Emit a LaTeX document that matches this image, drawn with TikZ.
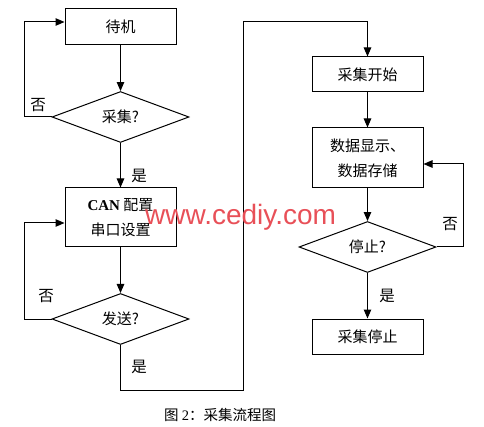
\documentclass[tikz,border=0pt]{standalone}
\usepackage{fontspec}
\setmainfont{Liberation Serif}
\newfontfamily\cjk{Noto Sans CJK SC}
\newfontfamily\wmfont{Liberation Sans}
\usetikzlibrary{arrows.meta,shapes.geometric,calc}
\tikzset{
  box/.style={draw, line width=1pt, minimum width=111pt, inner sep=0pt, align=center, font=\cjk\fontsize{15}{25}\selectfont},
  dia/.style={diamond, draw, line width=1pt, minimum width=137pt, inner sep=0pt, font=\cjk\fontsize{15}{16}\selectfont},
  arr/.style={line width=1pt, -{Triangle[length=9pt,width=7.5pt]}},
  lbl/.style={font=\cjk\fontsize{15.5}{16}\selectfont, inner sep=0pt}
}
\begin{document}
\begin{tikzpicture}[x=1pt,y=-1pt]
\useasboundingbox (0,0) rectangle (484,427);
% left column
\node[box, minimum height=36pt] (n1) at (120.5,27) {待机};
\node[dia, minimum height=47pt] (d1) at (120.5,117) {采集?};
\node[box, minimum height=59pt] (n2) at (120.5,217.5) {{\fontspec{Liberation Serif}\bfseries CAN} 配置\hspace{17pt}\\串口设置};
\node[dia, minimum height=46pt] (d2) at (120.5,319) {发送?};
% right column
\node[box, minimum height=35pt] (n3) at (367.5,74.5) {采集开始};
\node[box, minimum height=60pt] (n4) at (367.5,158) {数据显示、\\数据存储};
\node[dia, minimum height=48pt] (d3) at (367.5,247) {停止?};
\node[box, minimum height=35pt] (n5) at (367.5,336.5) {采集停止};
% corner coordinates
\coordinate (c1) at (24,117);
\coordinate (c2) at (24,319);
\coordinate (c3) at (120.5,390);
\coordinate (c4) at (243,390);
\coordinate (c5) at (243,22);
\coordinate (c6) at (367.5,22);
\coordinate (c7) at (463,247);
% connectors
\draw[arr] (n1) -- (d1);
\draw[arr] (d1.west) -- (c1) |- ($(n1.west)+(0,-5)$);
\draw[arr] (d1) -- (n2);
\draw[arr] (n2) -- (d2);
\draw[arr] (d2.west) -- (c2) |- ($(n2.west)+(0,5.5)$);
\draw[arr] (d2.south) -- (c3) -- (c4) -- (c5) -- (c6) -- (n3.north);
\draw[arr] (n3) -- (n4);
\draw[arr] (n4) -- (d3);
\draw[arr] (d3.east) -- (c7) |- ($(n4.east)+(0,6)$);
\draw[arr] (d3) -- (n5);
% labels
\node[lbl] (l1) at (38,105) {否};
\node[lbl] (l2) at (139,176) {是};
\node[lbl] (l3) at (46,296) {否};
\node[lbl] (l4) at (139,367) {是};
\node[lbl] (l5) at (450,224) {否};
\node[lbl] (l6) at (387,296) {是};
% watermark
\node[font=\wmfont\fontsize{28}{30}\selectfont, text={rgb,255:red,232;green,80;blue,88}, anchor=base west, inner sep=0pt] (wm) at (145,225) {www.cediy.com};
% caption
\node[font=\cjk\fontsize{14.5}{16}\selectfont, inner sep=0pt] (cap) at (220,415) {图 {\fontspec{Liberation Serif}2}：采集流程图};
\end{tikzpicture}
\end{document}
